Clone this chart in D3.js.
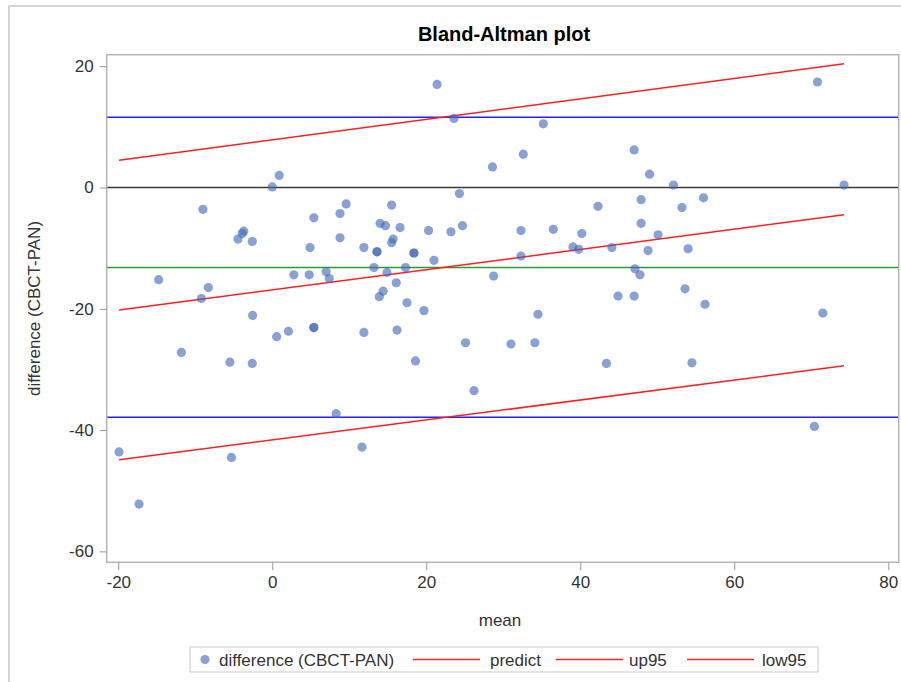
<!DOCTYPE html>
<html>
<head>
<meta charset="utf-8">
<script src="https://cdn.jsdelivr.net/npm/d3@7"></script>
<style>
  body { margin: 0; background: #fff; }
  text { font-family: "Liberation Sans", Arial, sans-serif; fill: #333; }
</style>
</head>
<body>
<script>
// mean of the two methods, per patient
const means = [
  0.9, 0.0, -9.0, -3.7, -3.9, -4.45, -2.6, 5.4, 9.6, 8.8,
  8.8, 4.9, 11.9, -14.75, 2.8, 4.8, 7.0, 7.4, -8.3, -9.2,
  21.4, 23.6, 35.2, 32.6, 28.6, 24.3, 15.5, 42.3, 14.0, 14.7,
  16.6, 24.7, 20.3, 23.2, 32.3, 36.5, 40.2, 15.7, 15.5, 13.6,
  13.6, 18.4, 18.4, 39.05, 39.8, 44.1, 32.3, 21.0, 13.2, 17.3,
  14.9, 28.75, 16.1, 14.4, 13.9, 17.5, 19.7, 44.9, 70.8, 47.0,
  49.0, 52.1, 74.25, 47.9, 56.0, 53.2, 47.9, 50.1, 48.8, 54.0,
  47.1, 47.75, 53.6, 47.0, 56.2, 71.5, -2.55, -11.8, -5.5, -2.6,
  0.57, 2.1, 5.4, 5.4, 11.9, 8.3, -19.9, -5.3, 11.65, -17.3,
  16.2, 18.6, 25.1, 26.2, 31.0, 34.1, 34.5, 43.4, 54.5, 70.4
]
// difference CBCT - PAN, same order
const diffs = [
  2.0, 0.1, -3.6, -7.2, -7.6, -8.5, -8.9, -5.0, -2.7, -4.3,
  -8.3, -9.9, -9.9, -15.2, -14.4, -14.4, -13.9, -15.0, -16.5, -18.3,
  17.0, 11.4, 10.5, 5.5, 3.4, -1.0, -2.9, -3.1, -5.9, -6.3,
  -6.6, -6.3, -7.1, -7.3, -7.1, -6.9, -7.6, -8.5, -9.1, -10.6,
  -10.6, -10.8, -10.8, -9.8, -10.2, -9.9, -11.3, -12.0, -13.2, -13.2,
  -14.0, -14.6, -15.7, -17.1, -18.0, -19.0, -20.3, -17.9, 17.4, 6.2,
  2.2, 0.4, 0.4, -2.0, -1.7, -3.3, -5.9, -7.8, -10.4, -10.1,
  -13.4, -14.4, -16.7, -17.9, -19.25, -20.7, -21.1, -27.2, -28.8, -29.0,
  -24.6, -23.7, -23.1, -23.1, -23.9, -37.3, -43.6, -44.5, -42.8, -52.2,
  -23.5, -28.6, -25.6, -33.5, -25.8, -25.6, -20.9, -29.0, -28.9, -39.4
]

// reference lines
const meanDiff = -13.2
const upperLimit = 11.6
const lowerLimit = -37.9

// regression line and 95% prediction band, at the ends of the mean range
const lineMean = [-19.9, 74.25]
const predict = [-20.2, -4.5]
const up95 = [4.5, 20.4]
const low95 = [-44.9, -29.4]

const xTicks = [-20, 0, 20, 40, 60, 80]
const yTicks = [-60, -40, -20, 0, 20]

const w = 901
const h = 682
const padL = 106.7, padR = 898.7, padT = 54.7, padB = 562.3

const svg = d3.select('body')
     .append('svg')
     .attr('width', w)
     .attr('height', h)

// outer frame
svg.append('rect')
     .attr('x', 9).attr('y', 6)
     .attr('width', 1000).attr('height', 1000)
     .attr('fill', 'none')
     .attr('stroke', '#d4d4d4')
     .attr('stroke-width', 2)

const xScale = d3.scaleLinear()
     .domain([-21.5, 81.35])
     .range([padL, padR])
const yScale = d3.scaleLinear()
     .domain([21.9, -61.8])
     .range([padT, padB])

svg.append('text')
     .attr('x', 504)
     .attr('y', 41)
     .attr('text-anchor', 'middle')
     .style('font-size', '20px')
     .style('font-weight', 'bold')
     .style('fill', '#000')
     .text('Bland-Altman plot')

svg.append('clipPath').attr('id', 'plotclip')
     .append('rect')
     .attr('x', padL).attr('y', padT)
     .attr('width', padR - padL).attr('height', padB - padT)

const plot = svg.append('g').attr('clip-path', 'url(#plotclip)')

// horizontal lines
const hLines = [
     { v: upperLimit, c: '#2020ff' },
     { v: lowerLimit, c: '#2020ff' },
     { v: meanDiff, c: '#2f9a2f' },
     { v: 0, c: '#3a3a3a' }
]
plot.selectAll('line.h')
     .data(hLines)
     .enter()
     .append('line')
     .attr('class', 'h')
     .attr('x1', padL).attr('x2', padR)
     .attr('y1', d => yScale(d.v)).attr('y2', d => yScale(d.v))
     .attr('stroke', d => d.c)
     .attr('stroke-width', 1.5)

// regression + prediction lines
const line = d3.line()
     .x(d => xScale(d[0]))
     .y(d => yScale(d[1]))
;[predict, up95, low95].forEach(series => {
     plot.append('path')
          .attr('d', line(lineMean.map((m, i) => [m, series[i]])))
          .attr('fill', 'none')
          .attr('stroke', '#ff2020')
          .attr('stroke-width', 1.5)
})

// points
plot.selectAll('circle')
     .data(means.map((m, i) => [m, diffs[i]]))
     .enter()
     .append('circle')
     .attr('cx', d => xScale(d[0]))
     .attr('cy', d => yScale(d[1]))
     .attr('r', 4.6)
     .attr('fill', '#4068b8')
     .attr('fill-opacity', 0.62)

// frame
svg.append('rect')
     .attr('x', padL).attr('y', padT)
     .attr('width', padR - padL).attr('height', padB - padT)
     .attr('fill', 'none')
     .attr('stroke', '#b4b4b4')
     .attr('stroke-width', 1.5)

const xAxis = d3.axisBottom(xScale).tickValues(xTicks).tickFormat(d => String(d))
     .tickSize(8).tickSizeOuter(0).tickPadding(6)
const yAxis = d3.axisLeft(yScale).tickValues(yTicks).tickFormat(d => String(d))
     .tickSize(7).tickSizeOuter(0).tickPadding(6)

const gx = svg.append('g')
     .attr('transform', 'translate(0,' + padB + ')')
     .call(xAxis)
const gy = svg.append('g')
     .attr('transform', 'translate(' + padL + ',0)')
     .call(yAxis)
;[gx, gy].forEach(g => {
     g.select('.domain').remove()
     g.selectAll('line').attr('stroke', '#999')
     g.selectAll('text')
          .style('font-size', '17px')
          .style('font-family', '"Liberation Sans", Arial, sans-serif')
          .attr('fill', '#333')
})

svg.append('text')
     .attr('x', 500)
     .attr('y', 626)
     .attr('text-anchor', 'middle')
     .style('font-size', '17px')
     .text('mean')

svg.append('text')
     .attr('transform', 'translate(40,' + ((padT + padB) / 2) + ') rotate(-90)')
     .attr('text-anchor', 'middle')
     .style('font-size', '17px')
     .text('difference (CBCT-PAN)')

// legend
const legend = svg.append('g')
svg.append('rect')
     .attr('x', 190).attr('y', 647)
     .attr('width', 628).attr('height', 25)
     .attr('fill', 'none')
     .attr('stroke', '#c8c8c8')
legend.append('circle')
     .attr('cx', 205).attr('cy', 659.5).attr('r', 4.6)
     .attr('fill', '#4068b8').attr('fill-opacity', 0.62)
const legendItems = [
     { label: 'difference (CBCT-PAN)', tx: 219, lx: null },
     { label: 'predict', tx: 490, lx: 413 },
     { label: 'up95', tx: 629, lx: 556 },
     { label: 'low95', tx: 762, lx: 687 }
]
legendItems.forEach(d => {
     if (d.lx !== null) {
          legend.append('line')
               .attr('x1', d.lx).attr('x2', d.lx + 67)
               .attr('y1', 659.5).attr('y2', 659.5)
               .attr('stroke', '#ff2020').attr('stroke-width', 1.5)
     }
     legend.append('text')
          .attr('x', d.tx).attr('y', 665.5)
          .style('font-size', '17px')
          .text(d.label)
})
</script>
</body>
</html>
